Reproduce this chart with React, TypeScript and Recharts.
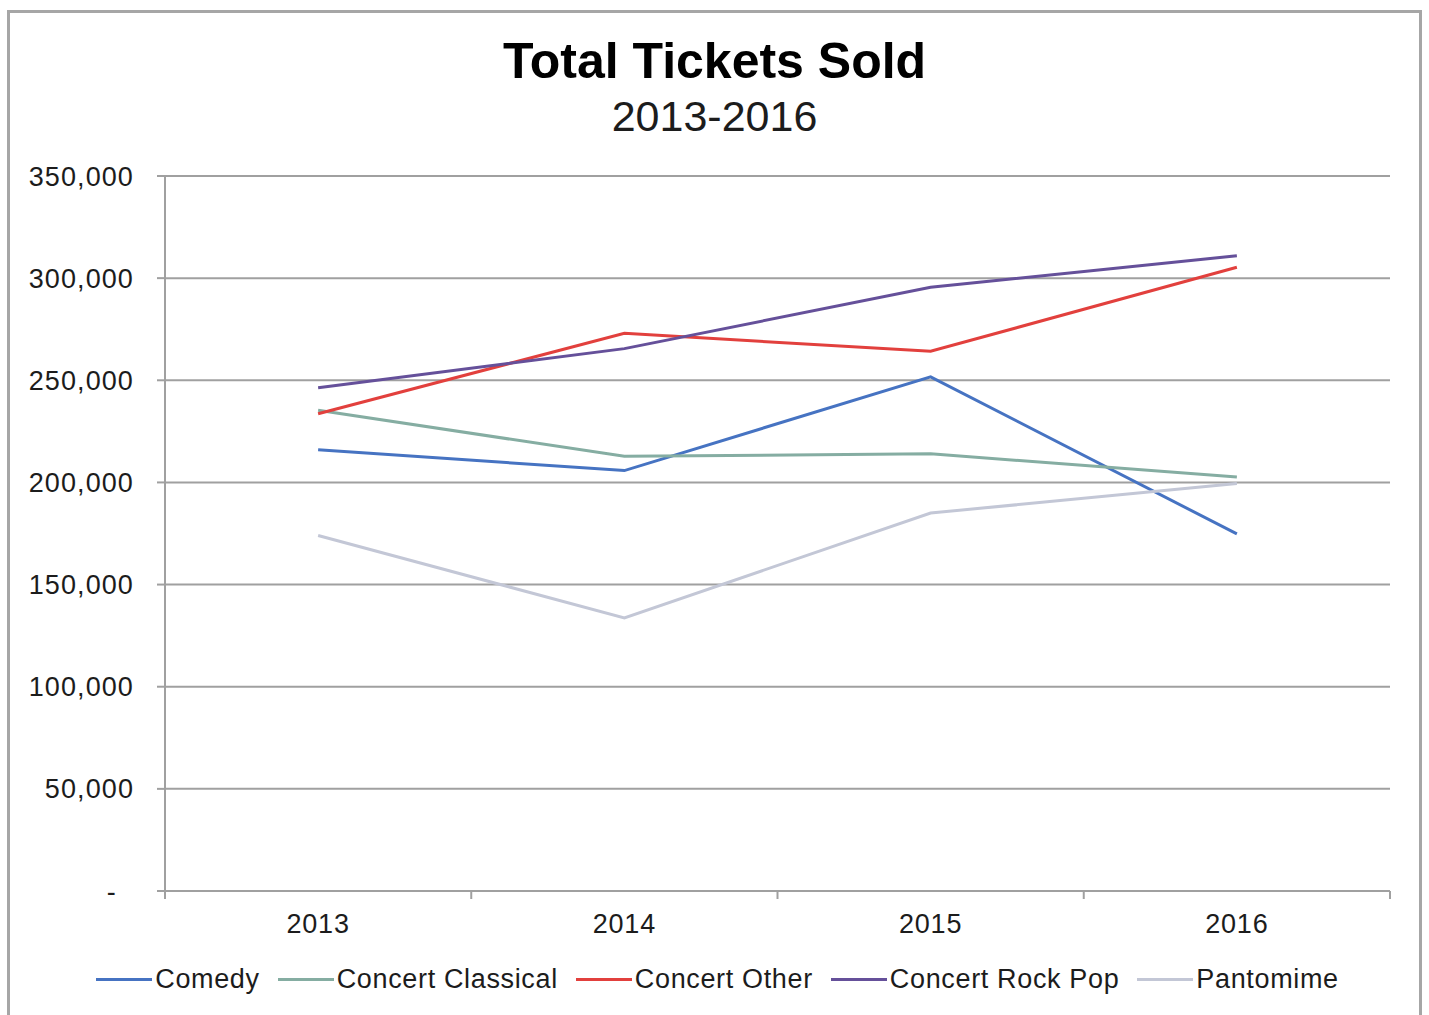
import React from "react";
import { CartesianGrid, Line, LineChart, XAxis, YAxis } from "recharts";

const years = ["2013", "2014", "2015", "2016"];

const comedy = [216000, 205800, 251700, 174800];
const concertClassical = [235300, 212800, 214000, 202600];
const concertOther = [233600, 273000, 264200, 305300];
const concertRockPop = [246300, 265500, 295500, 311000];
const pantomime = [174000, 133700, 185000, 199500];

const yTicks = [0, 50000, 100000, 150000, 200000, 250000, 300000, 350000];

const series = [
  { key: "comedy", label: "Comedy", color: "#4673c2", values: comedy },
  { key: "classical", label: "Concert Classical", color: "#85ada2", values: concertClassical },
  { key: "other", label: "Concert Other", color: "#e2403d", values: concertOther },
  { key: "rockpop", label: "Concert Rock Pop", color: "#65509a", values: concertRockPop },
  { key: "pantomime", label: "Pantomime", color: "#c3c7d6", values: pantomime },
];

const data = years.map((year, i) => {
  const row: Record<string, string | number> = { year };
  series.forEach((s) => {
    row[s.key] = s.values[i];
  });
  return row;
});

const W = 1429;
const H = 960;
const margin = { top: 176, right: 39, left: 0, bottom: 0 };
const yAxisWidth = 165;
const font = "'Liberation Sans', Arial, sans-serif";
const textColor = "#1c1c1c";
const gridColor = "#a0a0a0";

const halfBand = (W - margin.right - margin.left - yAxisWidth) / years.length / 2;

const formatY = (v: number) => (v === 0 ? "-\u00a0\u00a0" : v.toLocaleString("en-US"));

const XTick = ({ x, y, payload, index }: any) => {
  const isLast = index === years.length - 1;
  return (
    <g>
      <line x1={x - halfBand} y1={y} x2={x - halfBand} y2={y + 8} stroke={gridColor} strokeWidth={2} />
      {isLast && (
        <line x1={x + halfBand} y1={y} x2={x + halfBand} y2={y + 8} stroke={gridColor} strokeWidth={2} />
      )}
      <text
        x={x}
        y={y + 42}
        textAnchor="middle"
        fill={textColor}
        fontSize={27}
        fontFamily={font}
        letterSpacing={0.8}
      >
        {payload.value}
      </text>
    </g>
  );
};

export default function App() {
  return (
    <div style={{ position: "absolute", left: 0, top: 0, width: W, height: 1015, background: "#fff", overflow: "hidden" }}>
      <div
        style={{
          position: "absolute",
          left: 7,
          top: 10,
          width: 1415,
          height: 1020,
          border: "3px solid #a6a6a6",
          boxSizing: "border-box",
        }}
      />
      <div
        style={{
          position: "absolute",
          left: 0,
          top: 33,
          width: W,
          textAlign: "center",
          fontFamily: font,
          fontWeight: 700,
          fontSize: 50,
          lineHeight: "56px",
          color: "#000",
        }}
      >
        Total Tickets Sold
      </div>
      <div
        style={{
          position: "absolute",
          left: 0,
          top: 92,
          width: W,
          textAlign: "center",
          fontFamily: font,
          fontSize: 43,
          lineHeight: "48px",
          color: textColor,
        }}
      >
        2013-2016
      </div>

      <div style={{ position: "absolute", left: 0, top: 0 }}>
        <LineChart width={W} height={H} data={data} margin={margin}>
          <CartesianGrid horizontal vertical={false} stroke={gridColor} strokeWidth={2} />
          <XAxis
            dataKey="year"
            scale="band"
            height={H - 891}
            axisLine={{ stroke: gridColor, strokeWidth: 2 }}
            tickLine={false}
            tickSize={0}
            tickMargin={0}
            interval={0}
            tick={<XTick />}
          />
          <YAxis
            width={yAxisWidth}
            domain={[0, 350000]}
            ticks={yTicks}
            tickFormatter={formatY}
            axisLine={{ stroke: gridColor, strokeWidth: 2 }}
            tickLine={{ stroke: gridColor, strokeWidth: 2 }}
            tickSize={8}
            tickMargin={23}
            tick={{ fill: textColor, fontSize: 27, fontFamily: font, letterSpacing: 1.1 }}
          />
          {series.map((s) => (
            <Line
              key={s.key}
              type="linear"
              dataKey={s.key}
              name={s.label}
              stroke={s.color}
              strokeWidth={3}
              dot={false}
              activeDot={false}
              isAnimationActive={false}
            />
          ))}
        </LineChart>
      </div>

      <div
        style={{
          position: "absolute",
          left: 0,
          top: 964,
          width: W,
          display: "flex",
          justifyContent: "center",
          gap: 18,
          paddingLeft: 6,
          boxSizing: "border-box",
          fontFamily: font,
          fontSize: 27,
          letterSpacing: 0.65,
          color: textColor,
        }}
      >
        {series.map((s) => (
          <div key={s.key} style={{ display: "flex", alignItems: "center" }}>
            <span style={{ width: 56, height: 3, background: s.color, marginRight: 3 }} />
            <span>{s.label}</span>
          </div>
        ))}
      </div>
    </div>
  );
}
